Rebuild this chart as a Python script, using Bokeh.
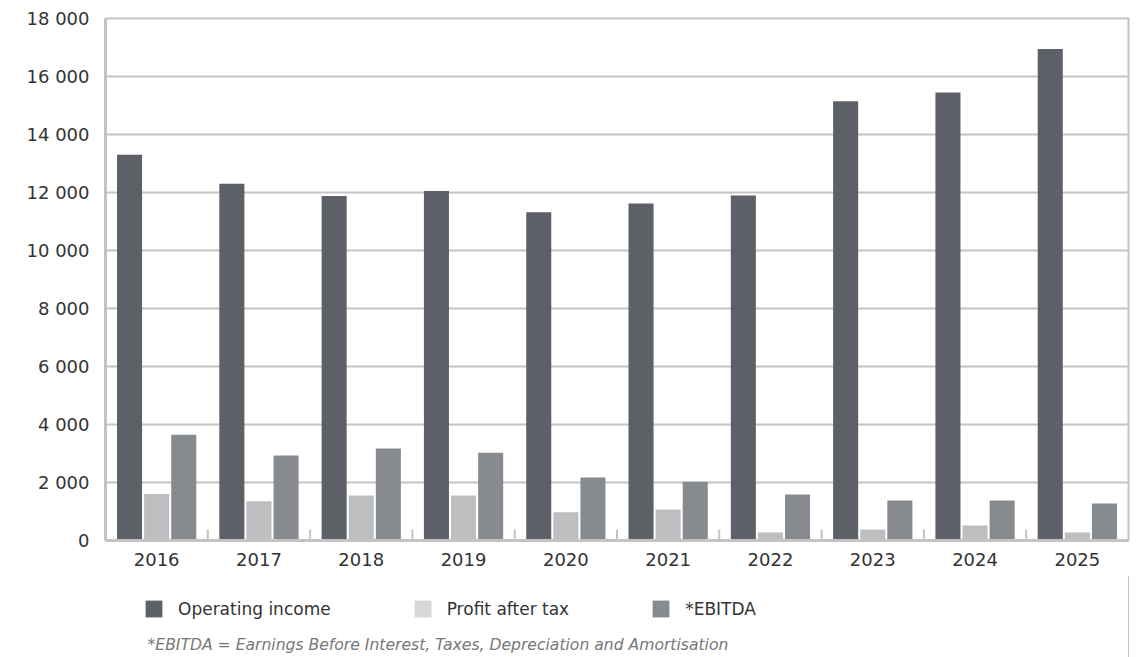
from bokeh.plotting import figure
from bokeh.layouts import column
from bokeh.models import (FactorRange, Range1d, Legend, LegendItem, CustomJSTickFormatter,
                          Label, ColumnDataSource, FixedTicker)
from bokeh.transform import dodge
from bokeh.embed import file_html
from bokeh.resources import INLINE

years = ["2016", "2017", "2018", "2019", "2020", "2021", "2022", "2023", "2024", "2025"]
operating_income = [13300, 12300, 11880, 12050, 11320, 11620, 11900, 15150, 15450, 16950]
profit_after_tax = [1600, 1350, 1550, 1550, 970, 1070, 280, 380, 520, 280]
ebitda = [3650, 2930, 3170, 3030, 2170, 2030, 1590, 1380, 1380, 1280]
y_ticks = [0, 2000, 4000, 6000, 8000, 10000, 12000, 14000, 16000, 18000]
series_names = ["Operating income", "Profit after tax", "*EBITDA"]
footnote = "*EBITDA = Earnings Before Interest, Taxes, Depreciation and Amortisation"

FONT = "DejaVu Sans"
C_OP = "#5e6067"
C_PAT = "#bdbec0"
C_EB = "#878b8f"
GRID = "#c3c3c3"

src = ColumnDataSource(dict(year=years, op=operating_income, pat=profit_after_tax, eb=ebitda))
sep_src = ColumnDataSource(dict(year=years[1:], y0=[0] * 9, y1=[380] * 9))

p = figure(x_range=FactorRange(factors=years), y_range=Range1d(0, 18000),
           width=1145, height=575, output_backend="svg", toolbar_location=None,
           min_border_left=105, min_border_right=17, min_border_top=18, min_border_bottom=35)

w = 0.245
off = 0.265
p.vbar(x=dodge("year", -off, range=p.x_range), top="op", width=w, source=src,
       fill_color=C_OP, line_color=None)
p.vbar(x=dodge("year", 0, range=p.x_range), top="pat", width=w, source=src,
       fill_color=C_PAT, line_color=None)
p.vbar(x=dodge("year", off, range=p.x_range), top="eb", width=w, source=src,
       fill_color=C_EB, line_color=None)
p.segment(x0=dodge("year", -0.5, range=p.x_range), x1=dodge("year", -0.5, range=p.x_range),
          y0="y0", y1="y1", source=sep_src, line_color=GRID, line_width=2)

p.yaxis.ticker = FixedTicker(ticks=y_ticks)
p.yaxis.formatter = CustomJSTickFormatter(code="return tick.toString().replace(/\\B(?=(\\d{3})+(?!\\d))/g, ' ');")
for ax in (p.xaxis, p.yaxis):
    ax.major_label_text_font = FONT
    ax.major_label_text_font_size = "18px"
    ax.major_label_text_color = "#333333"
    ax.axis_line_color = GRID
    ax.axis_line_width = 3
    ax.major_tick_line_color = None
    ax.minor_tick_line_color = None
p.yaxis.major_label_standoff = 10
p.xaxis.major_label_standoff = 6

p.xgrid.grid_line_color = None
p.ygrid.grid_line_color = GRID
p.ygrid.grid_line_width = 2
p.outline_line_color = GRID
p.outline_line_width = 2

# legend + footnote panel
p2 = figure(width=1145, height=82, output_backend="svg", toolbar_location=None,
            x_range=Range1d(0, 1), y_range=Range1d(0, 1), x_axis_type=None, y_axis_type=None,
            min_border=0, min_border_left=0, min_border_right=0, min_border_top=0, min_border_bottom=0)
p2.outline_line_color = None
hidden = ColumnDataSource(dict(x=[50], top=[1]))  # outside the visible range: legend swatches only
d1 = p2.vbar(x="x", top="top", width=0.1, source=hidden, fill_color=C_OP, line_color=None)
d2 = p2.vbar(x="x", top="top", width=0.1, source=hidden, fill_color="#d7d7d7", line_color=None)
d3 = p2.vbar(x="x", top="top", width=0.1, source=hidden, fill_color=C_EB, line_color=None)

legend = Legend(items=[LegendItem(label=series_names[0], renderers=[d1]),
                       LegendItem(label=series_names[1], renderers=[d2]),
                       LegendItem(label=series_names[2], renderers=[d3])],
                orientation="horizontal", location=(38, 38), spacing=81,
                glyph_width=21, glyph_height=21, label_standoff=14, label_height=21,
                label_text_font=FONT, label_text_font_size="17px", label_text_color="#333333",
                border_line_color=None, background_fill_alpha=0, padding=0, margin=0)
p2.add_layout(legend, "center")

p2.add_layout(Label(x=42, y=4, x_units="screen", y_units="screen", text=footnote,
                    text_font=FONT, text_font_style="italic", text_font_size="15.6px",
                    text_color="#777777", text_baseline="bottom"))

open("out.html", "w").write(file_html(column(p, p2, spacing=0), INLINE))
